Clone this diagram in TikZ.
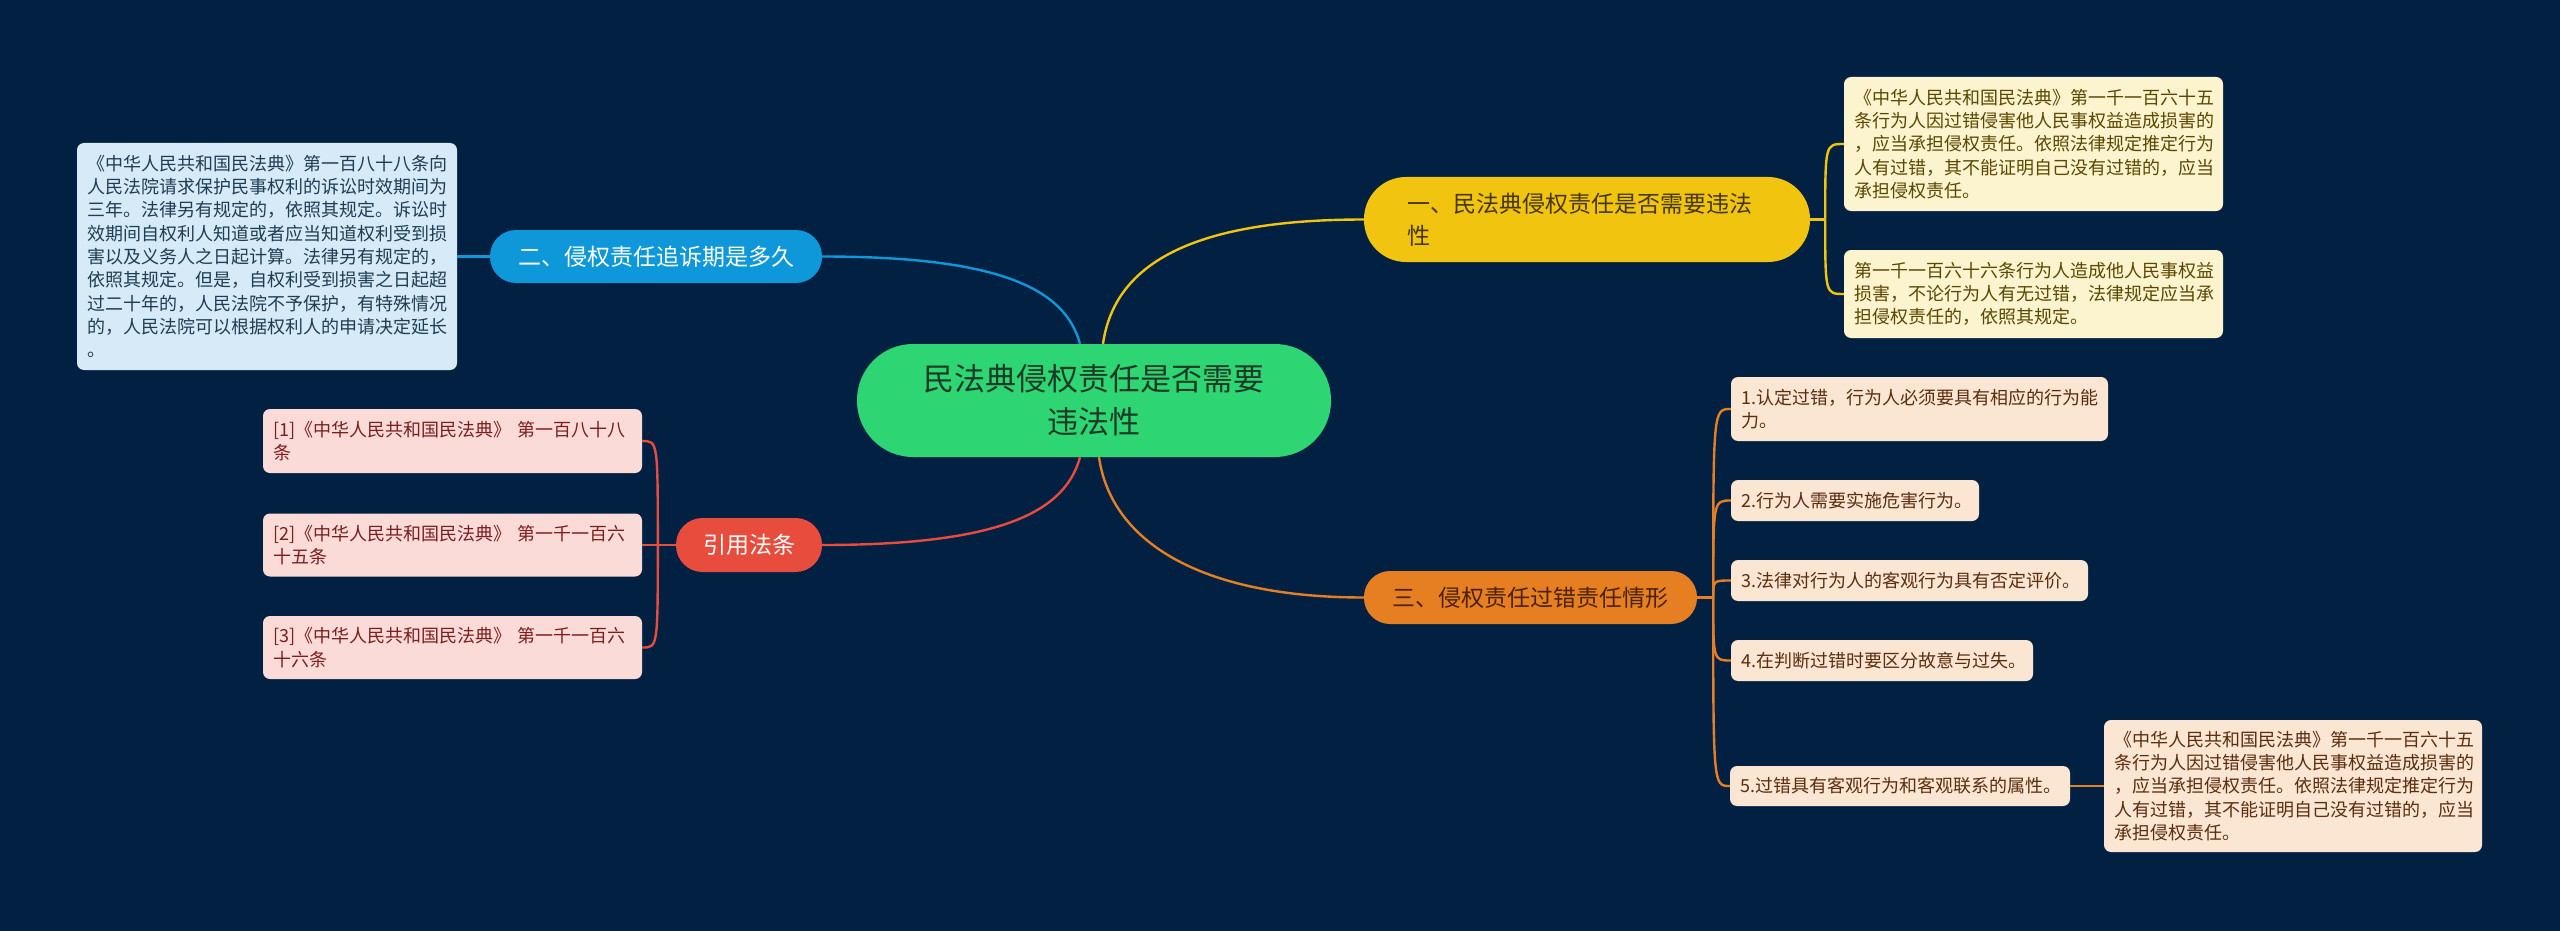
\documentclass[tikz,border=0pt]{standalone}
\usepackage{fontspec}
\setmainfont{Noto Sans CJK SC}
\definecolor{bg}{HTML}{022142}
\definecolor{rootc}{HTML}{2ED573}
\definecolor{roott}{HTML}{1C3A26}
\definecolor{yelc}{HTML}{F1C40F}
\definecolor{yelt}{HTML}{453700}
\definecolor{orac}{HTML}{E67E22}
\definecolor{orat}{HTML}{4A2200}
\definecolor{bluc}{HTML}{0E98DA}
\definecolor{redc}{HTML}{E74C3C}
\definecolor{yleaf}{HTML}{FCF3CF}
\definecolor{yleaft}{HTML}{5A4700}
\definecolor{oleaf}{HTML}{FBE5D3}
\definecolor{oleaft}{HTML}{5A2E0E}
\definecolor{rleaf}{HTML}{FADBD8}
\definecolor{rleaft}{HTML}{7B1E1E}
\definecolor{bleaf}{HTML}{D6EAF8}
\definecolor{bleaft}{HTML}{1F3D55}
\newcommand\leaffont{\fontsize{18}{23.3}\selectfont}
\newcommand\branchfont{\fontsize{23}{32}\selectfont}
\newcommand\rootfont{\fontsize{31}{43}\selectfont}
\begin{document}
\begin{tikzpicture}[x=1pt,y=-1pt,
  leaf/.style={rounded corners=7pt, inner xsep=10pt, inner ysep=0pt, align=left, font=\leaffont, anchor=center},
  pill/.style={inner sep=0pt, font=\branchfont, anchor=center},
  con/.style={line width=2.4pt}
]
\fill[bg] (0,0) rectangle (2560,931);
\useasboundingbox (0,0) rectangle (2560,931);

% root
\node[pill, font=\rootfont, align=center, fill=rootc, text=roott, minimum width=474pt, minimum height=113pt, rounded corners=56pt] (root) at (1094,400.5) {民法典侵权责任是否需要\\违法性};

% branches
\node[pill, fill=yelc, text=yelt, minimum width=446pt, minimum height=85pt, rounded corners=42pt, text width=360pt, align=left] (b1) at (1587,219.5) {一、民法典侵权责任是否需要违法\\性};
\node[pill, fill=bluc, text=white, minimum width=332pt, minimum height=53pt, rounded corners=26pt] (b2) at (656,256.5) {二、侵权责任追诉期是多久};
\node[pill, fill=orac, text=orat, minimum width=333pt, minimum height=53pt, rounded corners=26pt] (b3) at (1530.5,597.5) {三、侵权责任过错责任情形};
\node[pill, fill=redc, text=white, minimum width=146pt, minimum height=54pt, rounded corners=26.5pt] (b4) at (749,545) {引用法条};

% blue leaf
\node[leaf, fill=bleaf, text=bleaft, text width=360pt, minimum height=227pt] (bl) at (267,256.5) {《中华人民共和国民法典》第一百八十八条向\\人民法院请求保护民事权利的诉讼时效期间为\\三年。法律另有规定的，依照其规定。诉讼时\\效期间自权利人知道或者应当知道权利受到损\\害以及义务人之日起计算。法律另有规定的，\\依照其规定。但是，自权利受到损害之日起超\\过二十年的，人民法院不予保护，有特殊情况\\的，人民法院可以根据权利人的申请决定延长\\。};

% red leaves
\node[leaf, fill=rleaf, text=rleaft, text width=359pt, minimum height=64pt] (r1) at (452.5,441) {[1]《中华人民共和国民法典》 第一百八十八\\条};
\node[leaf, fill=rleaf, text=rleaft, text width=359pt, minimum height=63pt] (r2) at (452.5,545) {[2]《中华人民共和国民法典》 第一千一百六\\十五条};
\node[leaf, fill=rleaf, text=rleaft, text width=359pt, minimum height=63pt] (r3) at (452.5,647.5) {[3]《中华人民共和国民法典》 第一千一百六\\十六条};

% yellow leaves
\node[leaf, fill=yleaf, text=yleaft, text width=359pt, minimum height=134pt] (y1) at (2033.5,144) {《中华人民共和国民法典》第一千一百六十五\\条行为人因过错侵害他人民事权益造成损害的\\，应当承担侵权责任。依照法律规定推定行为\\人有过错，其不能证明自己没有过错的，应当\\承担侵权责任。};
\node[leaf, fill=yleaf, text=yleaft, text width=359pt, minimum height=88pt] (y2) at (2033.5,294) {第一千一百六十六条行为人造成他人民事权益\\损害，不论行为人有无过错，法律规定应当承\\担侵权责任的，依照其规定。};

% orange leaves
\node[leaf, fill=oleaf, text=oleaft, text width=357pt, minimum height=64pt] (o1) at (1919.5,409) {1.认定过错，行为人必须要具有相应的行为能\\力。};
\node[leaf, fill=oleaf, text=oleaft, text width=228pt, minimum height=41pt] (o2) at (1855,500.5) {2.行为人需要实施危害行为。};
\node[leaf, fill=oleaf, text=oleaft, text width=337pt, minimum height=41pt] (o3) at (1909.5,580.5) {3.法律对行为人的客观行为具有否定评价。};
\node[leaf, fill=oleaf, text=oleaft, text width=282pt, minimum height=41pt] (o4) at (1882,660.5) {4.在判断过错时要区分故意与过失。};
\node[leaf, fill=oleaf, text=oleaft, text width=320pt, minimum height=40pt] (o5) at (1900,786) {5.过错具有客观行为和客观联系的属性。};
\node[leaf, fill=oleaf, text=oleaft, text width=358pt, minimum height=132pt] (o5c) at (2293,786) {《中华人民共和国民法典》第一千一百六十五\\条行为人因过错侵害他人民事权益造成损害的\\，应当承担侵权责任。依照法律规定推定行为\\人有过错，其不能证明自己没有过错的，应当\\承担侵权责任。};

% root connectors
\draw[con, yelc] ([xshift=9pt]root.north) .. controls +(12,-84) and +(-164,0) .. (b1.west);
\draw[con, bluc] ([xshift=-14pt]root.north) .. controls +(-15,-55) and +(178,0) .. (b2.east);
\draw[con, orac] ([xshift=5pt]root.south) .. controls +(12,84) and +(-164,0) .. (b3.west);
\draw[con, redc] ([xshift=-14pt]root.south) .. controls +(-15,55) and +(178,0) .. (b4.east);

% junctions
\path (b1.east) ++(15,0) coordinate (yj);
\path (b3.east) ++(16,0) coordinate (oj);
\path (b4.west) ++(-18,0) coordinate (rj);

% yellow leaf connectors
\draw[con, yelc] (b1.east) -- (yj);
\foreach \l in {y1,y2}{
  \draw[con, yelc] (yj) .. controls (yj |- \l.west) .. (\l.west);
}

% orange leaf connectors
\draw[con, orac] (b3.east) -- (oj);
\foreach \l in {o1,o2,o3,o4,o5}{
  \draw[con, orac] (oj) .. controls (oj |- \l.west) .. (\l.west);
}
\draw[con, orac] (o5.east) -- (o5c.west);

% red leaf connectors
\draw[con, redc] (b4.west) -- (r2.east);
\foreach \l in {r1,r3}{
  \draw[con, redc] (rj) .. controls (rj |- \l.east) .. (\l.east);
}

% blue leaf connector
\draw[con, bluc] (b2.west) -- (bl.east);
\end{tikzpicture}
\end{document}
